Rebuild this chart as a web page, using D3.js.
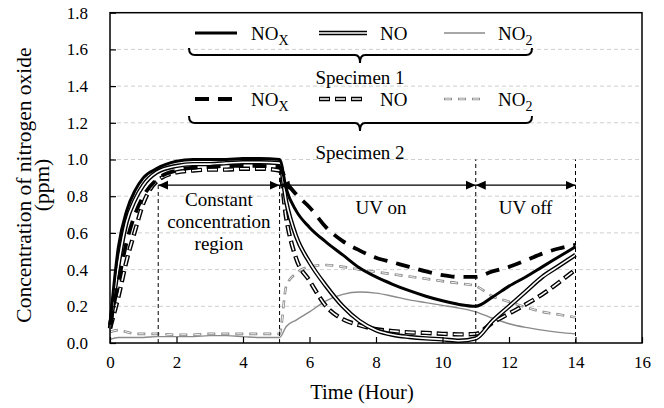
<!DOCTYPE html>
<html>
<head>
<meta charset="utf-8">
<script src="https://cdn.jsdelivr.net/npm/d3@7"></script>
<style>
  body { margin: 0; background: #fff; }
  svg { display: block; }
  svg text { font-family: "Liberation Serif", "DejaVu Serif", serif; }
</style>
</head>
<body>
<svg id="chart"></svg>
<script>
// sampling times (hour)
const times = [0, 0.25, 0.5, 0.75, 1, 1.4, 2, 2.5, 3, 3.5, 4, 4.5, 5.1, 5.3, 5.6, 6, 6.5, 7,
  7.5, 8, 8.5, 9, 9.5, 10, 10.5, 11, 11.5, 12, 12.5, 13, 13.5, 14];

// specimen 1
const s1Nox = [0.1, 0.52, 0.72, 0.83, 0.9, 0.95, 0.99, 1.0, 1.0, 1.0, 1.005, 1.005, 1.0, 0.84, 0.72, 0.63, 0.55, 0.48,
  0.41, 0.36, 0.32, 0.285, 0.255, 0.23, 0.21, 0.2, 0.25, 0.31, 0.36, 0.415, 0.47, 0.525];
const s1No = [0.08, 0.42, 0.66, 0.78, 0.86, 0.93, 0.965, 0.975, 0.975, 0.98, 0.985, 0.985, 0.98, 0.77, 0.58, 0.44, 0.31, 0.2,
  0.12, 0.07, 0.045, 0.033, 0.025, 0.02, 0.012, 0.025, 0.12, 0.2, 0.28, 0.36, 0.42, 0.48];
const s1No2 = [0.02, 0.03, 0.03, 0.03, 0.03, 0.035, 0.035, 0.035, 0.04, 0.04, 0.035, 0.03, 0.03, 0.09, 0.125, 0.17, 0.23, 0.265,
  0.278, 0.272, 0.255, 0.235, 0.22, 0.205, 0.19, 0.17, 0.135, 0.105, 0.085, 0.07, 0.058, 0.05];

// specimen 2
const s2Nox = [0.1, 0.33, 0.55, 0.7, 0.8, 0.89, 0.94, 0.955, 0.96, 0.965, 0.965, 0.965, 0.96, 0.88, 0.81, 0.74, 0.63, 0.555,
  0.505, 0.465, 0.44, 0.415, 0.39, 0.37, 0.36, 0.36, 0.39, 0.415, 0.45, 0.487, 0.515, 0.535];
const s2No = [0.08, 0.25, 0.45, 0.61, 0.76, 0.88, 0.93, 0.94, 0.945, 0.945, 0.95, 0.95, 0.94, 0.68, 0.46, 0.34, 0.2, 0.13,
  0.097, 0.075, 0.065, 0.058, 0.055, 0.05, 0.047, 0.05, 0.11, 0.16, 0.21, 0.265, 0.33, 0.4];
const s2No2 = [0.06, 0.07, 0.06, 0.05, 0.05, 0.05, 0.045, 0.045, 0.05, 0.05, 0.05, 0.05, 0.05, 0.31, 0.38, 0.415, 0.425, 0.415,
  0.4, 0.387, 0.375, 0.362, 0.35, 0.337, 0.325, 0.31, 0.255, 0.225, 0.195, 0.17, 0.155, 0.14];

const xTicks = [0, 2, 4, 6, 8, 10, 12, 14, 16];
const yTicks = [0, 0.2, 0.4, 0.6, 0.8, 1.0, 1.2, 1.4, 1.6, 1.8];

// phase boundaries and arrow level
const phaseBounds = [1.45, 5.1, 11, 14];
const phaseLabels = ["UV on", "UV off"];
const arrowLevel = 0.86;

const FONT = "Liberation Serif, DejaVu Serif, serif";
const width = 664, height = 408;
const svg = d3.select("#chart")
  .attr("width", width)
  .attr("height", height)
  .attr("font-family", FONT);

const x = d3.scaleLinear().domain([0, 16]).range([110, 642]);
const y = d3.scaleLinear().domain([0, 1.8]).range([343, 12.7]);

// line looks
const styles = {
  s1Nox: [{ stroke: "#000", w: 3 }],
  s1No: [{ stroke: "#000", w: 4.4 }, { stroke: "#fff", w: 1.6 }],
  s1No2: [{ stroke: "#8a8a8a", w: 1.4 }],
  s2Nox: [{ stroke: "#000", w: 3.8, dash: "14,9" }],
  s2No: [{ stroke: "#000", w: 4.4, dash: "11,5" }, { stroke: "#fff", w: 1.6, dash: "9,7", offset: -1 }],
  s2No2: [{ stroke: "#8a8a8a", w: 2.6, dash: "8,6" }, { stroke: "#fff", w: 0.9, dash: "6,8", offset: -1 }]
};

function drawStyled(g, d, style) {
  style.forEach((s) => {
    g.append("path")
      .attr("d", d)
      .attr("fill", "none")
      .attr("stroke", s.stroke)
      .attr("stroke-width", s.w)
      .attr("stroke-linejoin", "round")
      .attr("stroke-dasharray", s.dash || null)
      .attr("stroke-dashoffset", s.offset || null);
  });
}

// gridlines
svg.append("g")
  .selectAll("line")
  .data(yTicks.filter((v) => v > 0 && v < 1.8))
  .join("line")
  .attr("x1", x(0)).attr("x2", x(16))
  .attr("y1", (d) => y(d)).attr("y2", (d) => y(d))
  .attr("stroke", "#cfcfcf")
  .attr("stroke-dasharray", "4,3");

// curves
const line = d3.line()
  .x((d) => x(d[0]))
  .y((d) => y(d[1]))
  .curve(d3.curveMonotoneX);

const series = [
  ["s2No2", s2No2], ["s1No2", s1No2], ["s2No", s2No],
  ["s1No", s1No], ["s2Nox", s2Nox], ["s1Nox", s1Nox]
];
const curves = svg.append("g");
series.forEach(([key, vals]) => {
  drawStyled(curves, line(times.map((t, i) => [t, vals[i]])), styles[key]);
});

// phase boundaries
svg.append("g")
  .selectAll("line")
  .data(phaseBounds)
  .join("line")
  .attr("x1", (d) => x(d)).attr("x2", (d) => x(d))
  .attr("y1", y(0))
  .attr("y2", (d, i) => (i === 0 ? y(arrowLevel) : y(1.0)))
  .attr("stroke", "#000")
  .attr("stroke-width", 1)
  .attr("stroke-dasharray", "4,3");

// arrows
svg.append("defs").append("marker")
  .attr("id", "head")
  .attr("viewBox", "0 0 10 10")
  .attr("refX", 10).attr("refY", 5)
  .attr("markerWidth", 10).attr("markerHeight", 10)
  .attr("markerUnits", "userSpaceOnUse")
  .attr("orient", "auto-start-reverse")
  .append("path")
  .attr("d", "M0,0.5L10,5L0,9.5Z")
  .attr("fill", "#000");

svg.append("g")
  .selectAll("line")
  .data(d3.pairs(phaseBounds))
  .join("line")
  .attr("x1", (d) => x(d[0])).attr("x2", (d) => x(d[1]))
  .attr("y1", y(arrowLevel)).attr("y2", y(arrowLevel))
  .attr("stroke", "#000")
  .attr("stroke-width", 1.2)
  .attr("marker-start", "url(#head)")
  .attr("marker-end", "url(#head)");

// region labels
const region = svg.append("text")
  .attr("text-anchor", "middle")
  .attr("font-size", 19);
["Constant", "concentration", "region"].forEach((w, i) => {
  region.append("tspan")
    .attr("x", x((phaseBounds[0] + phaseBounds[1]) / 2))
    .attr("y", 206 + i * 22)
    .text(w);
});
svg.append("g")
  .selectAll("text")
  .data(phaseLabels)
  .join("text")
  .attr("x", (d, i) => x((phaseBounds[i + 1] + phaseBounds[i + 2]) / 2 + (i === 0 ? 0.1 : 0)))
  .attr("y", 214)
  .attr("text-anchor", "middle")
  .attr("font-size", 19)
  .text((d) => d);

// legend
const legend = svg.append("g");
const legendRows = [
  { y: 33, keys: ["s1Nox", "s1No", "s1No2"], label: "Specimen 1", braceY: 55, labelY: 84 },
  { y: 99, keys: ["s2Nox", "s2No", "s2No2"], label: "Specimen 2", braceY: 123, labelY: 159 }
];
const legendCols = [
  { x1: 195, x2: 237, tx: 251, name: "NO", sub: "X" },
  { x1: 319, x2: 367, tx: 380, name: "NO", sub: "" },
  { x1: 444, x2: 485, tx: 498, name: "NO", sub: "2" }
];
legendRows.forEach((row) => {
  legendCols.forEach((c, i) => {
    drawStyled(legend, `M${c.x1},${row.y}L${c.x2},${row.y}`, styles[row.keys[i]]);
    const t = legend.append("text")
      .attr("x", c.tx).attr("y", row.y + 6.5)
      .attr("font-size", 19);
    t.append("tspan").text(c.name);
    if (c.sub) t.append("tspan").attr("dy", 5).attr("font-size", 14).text(c.sub);
  });
  const b = row.braceY, l = 189, r = 532, m = 360;
  legend.append("path")
    .attr("d", `M${l},${b - 7}Q${l},${b} ${l + 6},${b}L${m - 5},${b}Q${m},${b} ${m},${b + 8}` +
      `Q${m},${b} ${m + 5},${b}L${r - 6},${b}Q${r},${b} ${r},${b - 7}`)
    .attr("fill", "none")
    .attr("stroke", "#000")
    .attr("stroke-width", 2);
  legend.append("text")
    .attr("x", m).attr("y", row.labelY)
    .attr("text-anchor", "middle")
    .attr("font-size", 19)
    .text(row.label);
});

// frame
svg.append("rect")
  .attr("x", x(0)).attr("y", y(1.8))
  .attr("width", x(16) - x(0)).attr("height", y(0) - y(1.8))
  .attr("fill", "none")
  .attr("stroke", "#000")
  .attr("stroke-width", 1.5);

// axes
const xAxis = svg.append("g")
  .attr("transform", `translate(0,${y(0)})`)
  .call(d3.axisBottom(x).tickValues(xTicks).tickSizeInner(-6).tickSizeOuter(0).tickPadding(13));
const yAxis = svg.append("g")
  .attr("transform", `translate(${x(0)},0)`)
  .call(d3.axisLeft(y).tickValues(yTicks).tickFormat(d3.format(".1f")).tickSizeInner(-6).tickSizeOuter(0).tickPadding(22));
[xAxis, yAxis].forEach((a) => {
  a.attr("font-family", FONT).attr("font-size", 17);
  a.select(".domain").remove();
  a.selectAll("line").attr("stroke", "#000").attr("stroke-width", 1.2);
  a.selectAll("text").attr("fill", "#000");
});

// axis titles
svg.append("text")
  .attr("x", 362).attr("y", 399)
  .attr("text-anchor", "middle")
  .attr("font-size", 20.5)
  .text("Time (Hour)");
const yTitle = svg.append("text")
  .attr("transform", `translate(0,${185}) rotate(-90)`)
  .attr("text-anchor", "middle")
  .attr("font-size", 21.5);
yTitle.append("tspan").attr("x", 0).attr("y", 31).text("Concentration of nitrogen oxide");
yTitle.append("tspan").attr("x", 0).attr("y", 49).text("(ppm)");
</script>
</body>
</html>
